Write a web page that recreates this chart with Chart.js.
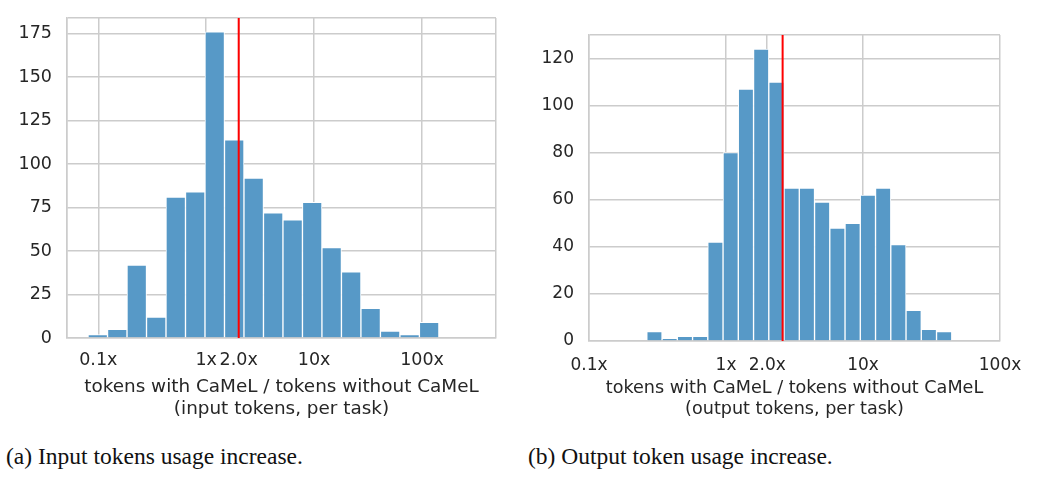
<!DOCTYPE html>
<html>
<head>
<meta charset="utf-8">
<script src="https://cdn.jsdelivr.net/npm/chart.js@4.4.1/dist/chart.umd.min.js"></script>
<style>
  body { margin: 0; background: #fff; width: 1037px; height: 480px; position: relative; overflow: hidden; }
  .box { position: absolute; top: 0; }
  .cap { position: absolute; top: 445px; font-family: 'Liberation Serif', serif; font-size: 23.5px; line-height: 1; color: #111; white-space: nowrap; }
</style>
</head>
<body>
<div class="box" style="left:0"><canvas id="inChart" width="505" height="420"></canvas></div>
<div class="box" style="left:520px"><canvas id="outChart" width="517" height="420"></canvas></div>
<div class="cap" style="left:6px">(a) Input tokens usage increase.</div>
<div class="cap" style="left:528px">(b) Output token usage increase.</div>
<script>
// counts per histogram bin (log-spaced bins)
var inputCounts = [2, 5, 42, 12, 81, 84, 176, 114, 92, 72, 68, 78, 52, 38, 17, 4, 2, 9];
var outputCounts = [4, 1, 2, 2, 42, 80, 107, 124, 110, 65, 65, 59, 48, 50, 62, 65, 41, 13, 5, 4];

// first bin edge and bin width, both in log10 units
var inputBinStart = -1.095, inputBinWidth = 0.1806;
var outputBinStart = -0.578, outputBinWidth = 0.1113;

// red vertical marker
var inputMarker = 2.0;
var outputMarker = 2.59;

var tickValues = [0.1, 1, 2, 10, 100];
var tickLabels = ['0.1x', '1x', '2.0x', '10x', '100x'];
var inputYTicks = [0, 25, 50, 75, 100, 125, 150, 175];
var outputYTicks = [0, 20, 40, 60, 80, 100, 120];
var xTitleIn = ['tokens with CaMeL / tokens without CaMeL', '(input tokens, per task)'];
var xTitleOut = ['tokens with CaMeL / tokens without CaMeL', '(output tokens, per task)'];

var gridCol = '#cccccc';
var textCol = '#262626';
var barCol = '#5799c7';
var noTick = 'rgba(0,0,0,0)';

function histChart(id, counts, binStart, binWidth, marker, yTicks, title, g) {
  var bars = counts.map(function (c, i) {
    return { x: Math.pow(10, binStart + (i + 0.5) * binWidth), y: c };
  });
  var xTicks = [g.xMin].concat(tickValues.filter(function (v) { return v > g.xMin && v < g.xMax; }), [g.xMax]);
  var yAll = yTicks.concat([g.yMax]);

  new Chart(document.getElementById(id), {
    type: 'bar',
    data: {
      datasets: [{
        type: 'line',
        data: [{ x: marker, y: 0 }, { x: marker, y: g.yMax }],
        borderColor: '#ff0000',
        borderWidth: 2,
        pointRadius: 0,
        order: 0
      }, {
        data: bars,
        backgroundColor: barCol,
        borderColor: '#ffffff',
        borderWidth: 1,
        barPercentage: 1,
        categoryPercentage: 1,
        order: 1
      }]
    },
    options: {
      responsive: false,
      animation: false,
      layout: { padding: { top: g.top, right: g.right, left: 0, bottom: 0 } },
      plugins: { legend: { display: false }, tooltip: { enabled: false } },
      scales: {
        x: {
          type: 'logarithmic',
          min: g.xMin,
          max: g.xMax,
          bounds: 'data',
          offset: false,
          afterBuildTicks: function (axis) {
            axis.ticks = xTicks.map(function (v) { return { value: v }; });
          },
          afterFit: function (axis) { axis.height = g.xh; },
          grid: { offset: false, color: gridCol, lineWidth: 1.5, drawTicks: true, tickLength: g.xPad, tickColor: noTick },
          border: { color: gridCol, width: 1.5 },
          ticks: {
            autoSkip: false,
            maxRotation: 0,
            padding: 0,
            color: textCol,
            font: { family: 'DejaVu Sans', size: g.tickSize },
            callback: function (v) {
              var k = tickValues.indexOf(v);
              return k < 0 ? '' : tickLabels[k];
            }
          },
          title: {
            display: true,
            text: title,
            color: textCol,
            font: { family: 'DejaVu Sans', size: g.titleSize, lineHeight: 1.18 },
            padding: { top: 0, bottom: 0 }
          }
        },
        y: {
          min: 0,
          max: g.yMax,
          afterBuildTicks: function (axis) {
            axis.ticks = yAll.map(function (v) { return { value: v }; });
          },
          afterFit: function (axis) { axis.width = g.yw; },
          grid: { color: gridCol, lineWidth: 1.5, drawTicks: true, tickLength: 15, tickColor: noTick },
          border: { color: gridCol, width: 1.5 },
          ticks: {
            autoSkip: false,
            padding: 0,
            color: textCol,
            font: { family: 'DejaVu Sans', size: g.tickSize },
            callback: function (v) { return yTicks.indexOf(v) < 0 ? '' : v; }
          }
        }
      }
    }
  });
}

histChart('inChart', inputCounts, inputBinStart, inputBinWidth, inputMarker, inputYTicks, xTitleIn, {
  xMin: 0.0513, xMax: 484, yMax: 184,
  top: 18, right: 9, yw: 67, xh: 82, xPad: 12, tickSize: 17.5, titleSize: 18.4
});
histChart('outChart', outputCounts, outputBinStart, outputBinWidth, outputMarker, outputYTicks, xTitleOut, {
  xMin: 0.1, xMax: 100, yMax: 130,
  top: 35, right: 37, yw: 69, xh: 79, xPad: 14, tickSize: 17, titleSize: 17.6
});
</script>
</body>
</html>
